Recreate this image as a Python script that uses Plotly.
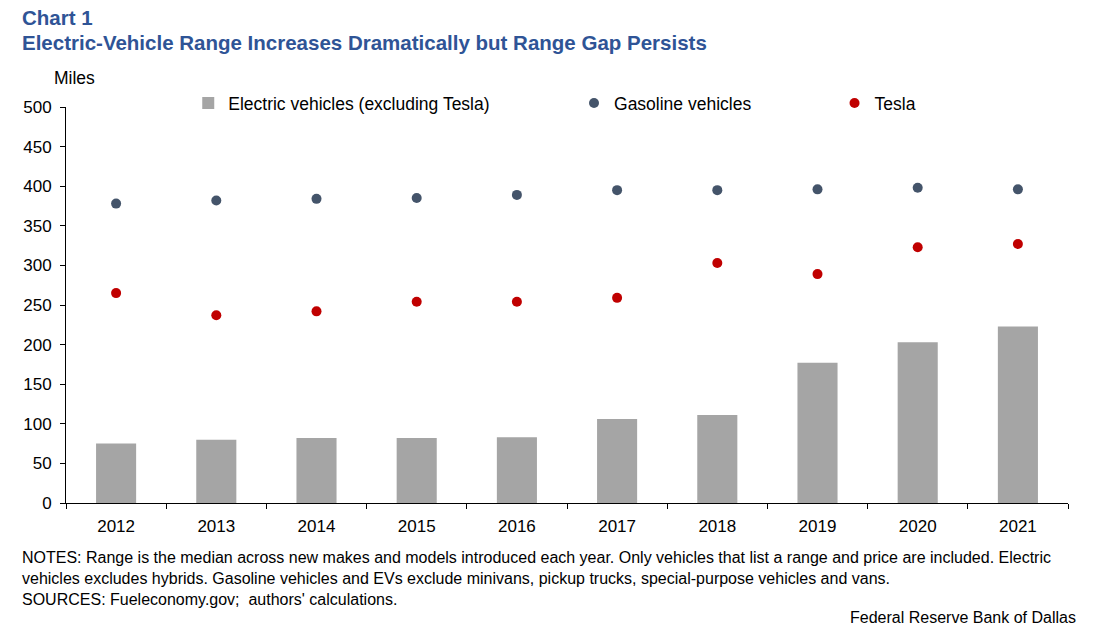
import plotly.graph_objects as go

years = ['2012', '2013', '2014', '2015', '2016', '2017', '2018', '2019', '2020', '2021']
ev_range = [75, 80, 82, 82, 83, 106, 111, 177, 203, 223]
gas_range = [378, 382, 384, 385, 389, 395, 395, 396, 398, 396]
tesla_range = [265, 237, 242, 254, 254, 259, 303, 289, 323, 327]

FONT = 'Liberation Sans, Arial, sans-serif'
TITLE_COLOR = '#2F5496'

fig = go.Figure()
fig.add_trace(go.Bar(x=years, y=ev_range, name='Electric vehicles (excluding Tesla)',
                     marker=dict(color='#A5A5A5', line=dict(width=0)), width=0.4,
                     legend='legend'))
fig.add_trace(go.Scatter(x=years, y=gas_range, name='Gasoline vehicles', mode='markers',
                         marker=dict(color='#44546A', size=10), legend='legend2'))
fig.add_trace(go.Scatter(x=years, y=tesla_range, name='Tesla', mode='markers',
                         marker=dict(color='#C00000', size=10), legend='legend3'))

legend_style = dict(orientation='h', xref='paper', yref='paper', yanchor='middle',
                    xanchor='left', font=dict(family=FONT, size=17.5, color='black'),
                    bgcolor='rgba(0,0,0,0)', itemwidth=30)

fig.update_layout(
    width=1097, height=642,
    margin=dict(l=66, r=29, t=107, b=139),
    paper_bgcolor='white', plot_bgcolor='white',
    font=dict(family=FONT, size=17, color='black'),
    showlegend=True,
    legend=dict(x=0.122, y=1.01, **legend_style),
    legend2=dict(x=0.507, y=1.01, **legend_style),
    legend3=dict(x=0.767, y=1.01, **legend_style),
    xaxis=dict(type='category', range=[-0.5, len(years) - 0.5],
               showline=True, linecolor='black', linewidth=1,
               ticks='outside', tickson='boundaries', ticklen=5, tickcolor='black',
               showgrid=False, tickfont=dict(size=17), ticklabelstandoff=8,
               automargin=False),
    yaxis=dict(range=[0, 500], dtick=50, showline=True, linecolor='black', linewidth=1,
               ticks='outside', ticklen=5, tickcolor='black', showgrid=False,
               zeroline=False, tickfont=dict(size=17), ticklabelstandoff=5,
               automargin=False),
)

fig.add_annotation(text='<b>Chart 1</b>', xref='paper', yref='paper', x=-0.046, y=1.0,
                   xanchor='left', yanchor='bottom', yshift=76, showarrow=False,
                   font=dict(family=FONT, size=20.5, color=TITLE_COLOR))
fig.add_annotation(text='<b>Electric-Vehicle Range Increases Dramatically but Range Gap Persists</b>',
                   xref='paper', yref='paper', x=-0.046, y=1.0, xanchor='left', yanchor='bottom',
                   yshift=51, showarrow=False, font=dict(family=FONT, size=20.5, color=TITLE_COLOR))
fig.add_annotation(text='Miles', xref='paper', yref='paper', x=-0.014, y=1.0,
                   xanchor='left', yanchor='bottom', yshift=17, showarrow=False,
                   font=dict(family=FONT, size=17.5, color='black'))

notes = ('NOTES: Range is the median across new makes and models introduced each year. '
         'Only vehicles that list a range and price are included. Electric<br>'
         'vehicles excludes hybrids. Gasoline vehicles and EVs exclude minivans, pickup trucks, '
         'special-purpose vehicles and vans.<br>'
         'SOURCES: Fueleconomy.gov;  authors\' calculations.')
fig.add_annotation(text=notes, xref='paper', yref='paper', x=-0.046, y=0, yshift=-44,
                   xanchor='left', yanchor='top', align='left', showarrow=False,
                   font=dict(family=FONT, size=16, color='black'))
fig.add_annotation(text='Federal Reserve Bank of Dallas', xref='paper', yref='paper',
                   x=1.01, y=0, yshift=-104, xanchor='right', yanchor='top', showarrow=False,
                   font=dict(family=FONT, size=16, color='black'))

# drop the default body margin so the figure sits at the page origin
fig.write_html('out.html', config={'displayModeBar': False},
               post_script="document.body.style.margin='0';document.body.style.overflow='hidden';")
